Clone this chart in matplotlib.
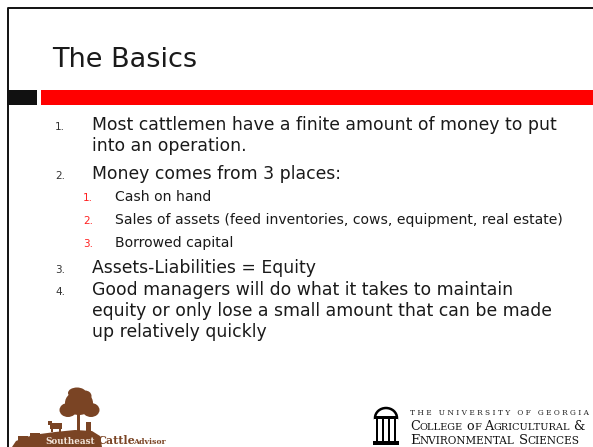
"""Slide 'The Basics' redrawn with matplotlib."""

import matplotlib.pyplot as plt
from matplotlib.patches import Rectangle, Polygon, Ellipse

W, H = 593, 447

TITLE = 'The Basics'
ITEM_LEVELS = [1, 1, 2, 2, 2, 1, 1]
ITEM_NUMBERS = ['1.', '2.', '1.', '2.', '3.', '3.', '4.']
ITEM_LINES = [
    ['Most cattlemen have a finite amount of money to put',
     'into an operation.'],
    ['Money comes from 3 places:'],
    ['Cash on hand'],
    ['Sales of assets (feed inventories, cows, equipment, real estate)'],
    ['Borrowed capital'],
    ['Assets-Liabilities = Equity'],
    ['Good managers will do what it takes to maintain',
     'equity or only lose a small amount that can be made',
     'up relatively quickly'],
]
# first baseline of every item, in pixels from the top
ITEM_BASELINES = [130, 179, 201, 224, 247, 273, 295]

FONT = 'DejaVu Sans'
SERIF = 'DejaVu Serif'
BROWN = '#7a4424'

fig = plt.figure(figsize=(W / 100, H / 100), dpi=100)
ax = fig.add_axes([0, 0, 1, 1])
ax.set_xlim(0, W)
ax.set_ylim(H, 0)
ax.axis('off')

# frame and header bars
ax.plot([7.5, 7.5, W], [H, 7.5, 7.5], color='#111111', lw=1.4)
ax.add_patch(Rectangle((7, 90), 30, 15, color='#111111', lw=0))
ax.add_patch(Rectangle((41, 90), W - 41, 15, color='#ff0000', lw=0))

ax.text(52, 67, TITLE, fontsize=19.5, color='#1a1a1a', family=FONT,
        va='baseline')

for level, num, lines, y0 in zip(ITEM_LEVELS, ITEM_NUMBERS, ITEM_LINES,
                                 ITEM_BASELINES):
    if level == 1:
        x_num, x_txt, fs, step, ncol = 55, 92, 12.4, 21, '#333333'
    else:
        x_num, x_txt, fs, step, ncol = 83, 115, 10.1, 23, '#ff2020'
    ax.text(x_num, y0, num, fontsize=7.5, color=ncol, family=FONT,
            va='baseline')
    for i, line in enumerate(lines):
        ax.text(x_txt, y0 + i * step, line, fontsize=fs, color='#1a1a1a',
                family=FONT, va='baseline')

# Southeast Cattle Advisor logo (rough silhouette)
hill = [(12, 447), (16, 441), (26, 437), (40, 434), (55, 432), (75, 430),
        (92, 431), (100, 436), (102, 447)]
ax.add_patch(Polygon(hill, closed=True, color=BROWN, lw=0))
for cx, cy, rw, rh in [(79, 403, 28, 24), (68, 410, 17, 14), (91, 410, 17, 14),
                       (77, 393, 18, 11), (85, 396, 13, 11)]:
    ax.add_patch(Ellipse((cx, cy), rw, rh, color=BROWN, lw=0))
ax.add_patch(Rectangle((77, 410), 3, 22, color=BROWN, lw=0))
ax.add_patch(Rectangle((86, 422), 5, 10, color=BROWN, lw=0))
ax.add_patch(Rectangle((50, 423), 12, 6, color=BROWN, lw=0))
ax.add_patch(Rectangle((48, 421), 4, 4, color=BROWN, lw=0))
ax.add_patch(Rectangle((51, 428), 2, 4, color=BROWN, lw=0))
ax.add_patch(Rectangle((59, 428), 2, 4, color=BROWN, lw=0))
ax.add_patch(Rectangle((18, 436), 10, 5, color=BROWN, lw=0))
ax.add_patch(Rectangle((30, 433), 10, 5, color=BROWN, lw=0))
ax.text(45, 444.5, 'Southeast', fontsize=6.3, color='#f3e6dc', family=SERIF,
        weight='bold', va='baseline')
ax.text(98, 444.5, 'Cattle', fontsize=8, color=BROWN, family=SERIF,
        weight='bold', va='baseline')
ax.text(133, 444.5, 'Advisor', fontsize=5.6, color=BROWN, family=SERIF,
        weight='bold', va='baseline')

# UGA arch logo
ax.add_patch(Ellipse((386, 418), 22, 20, fill=False, ec='black', lw=1.8))
ax.add_patch(Rectangle((374, 418), 24, 30, color='white', lw=0))
for px in [377, 383, 389, 395]:
    ax.add_patch(Rectangle((px - 1.3, 418), 2.6, 23, color='black', lw=0))
ax.add_patch(Rectangle((374, 416), 24, 2.5, color='black', lw=0))
ax.add_patch(Rectangle((373, 441), 26, 3.5, color='black', lw=0))

ax.text(410, 415, 'T H E   U N I V E R S I T Y   O F   G E O R G I A',
        fontsize=5.3, color='#222222', family=SERIF, va='baseline')


def small_caps(x, y, words, big, small, gap):
    """Write text as small caps, piece by piece."""
    renderer = fig.canvas.get_renderer()
    inv = ax.transData.inverted()
    for word in words:
        for j, part in enumerate([word[0], word[1:].upper()]):
            if not part:
                continue
            t = ax.text(x, y, part, fontsize=big if j == 0 else small,
                        family=SERIF, color='#111111', va='baseline')
            bb = t.get_window_extent(renderer)
            x0 = inv.transform((bb.x0, bb.y0))[0]
            x1 = inv.transform((bb.x1, bb.y0))[0]
            x += x1 - x0
        x += gap


small_caps(410, 430, ['College', 'of', 'Agricultural', '&'], 9.2, 7.0, 3.5)
small_caps(410, 444.5, ['Environmental', 'Sciences'], 9.6, 7.6, 4)

fig.savefig('out.png', dpi=100)
